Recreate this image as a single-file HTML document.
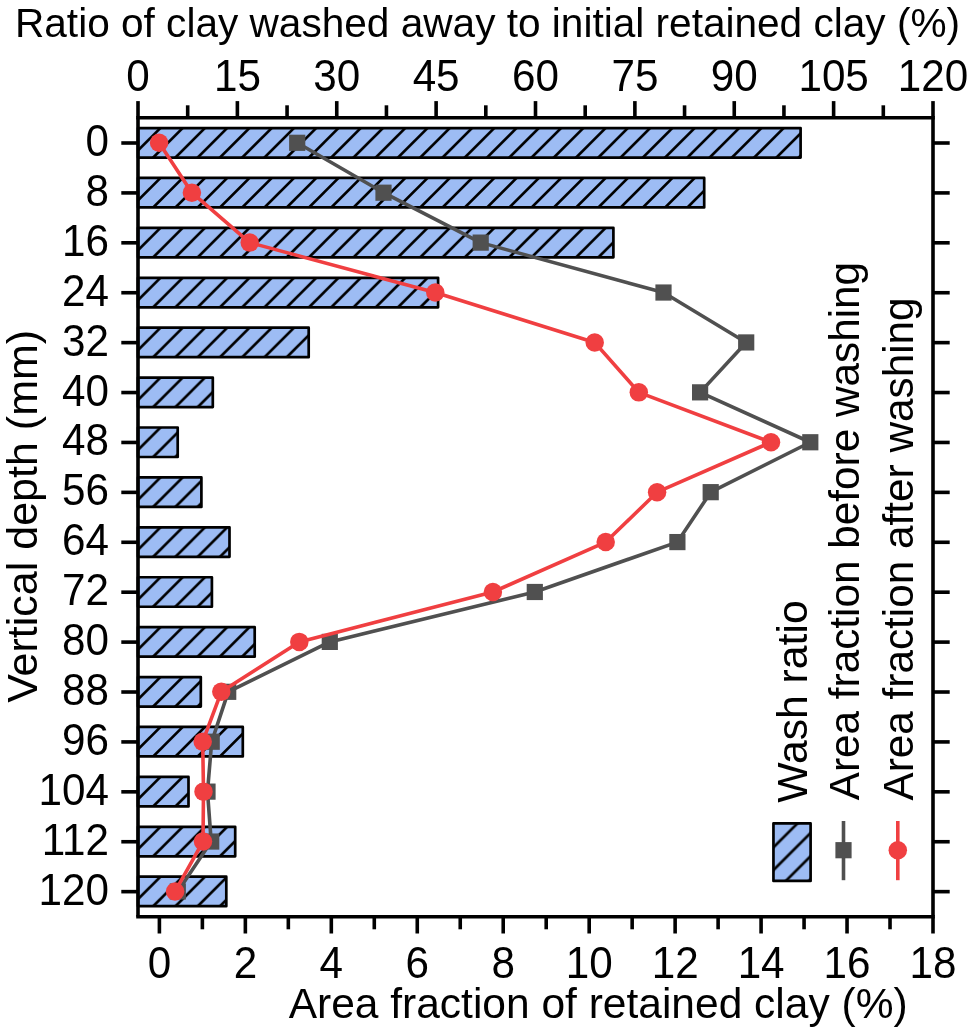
<!DOCTYPE html>
<html lang="en"><head><meta charset="utf-8">
<title>Clay wash ratio and area fraction versus vertical depth</title>
<style>
html,body{margin:0;padding:0;background:#fff;}
body{width:969px;height:1032px;overflow:hidden;}
svg{display:block;will-change:transform;}
text{font-family:"Liberation Sans", Arial, Helvetica, sans-serif;fill:#000;}
</style></head><body>
<svg role="img" aria-label="Bar and line chart of clay wash ratio and area fraction versus vertical depth" width="969" height="1032" viewBox="0 0 969 1032">
<rect x="0" y="0" width="969" height="1032" fill="#fff"/>
<defs><g id="hatch" stroke="#000" stroke-width="2.60" stroke-linecap="butt">
<line x1="-22.60" y1="45.00" x2="34.40" y2="-12.00"/>
<line x1="-0.34" y1="45.00" x2="56.66" y2="-12.00"/>
<line x1="21.92" y1="45.00" x2="78.92" y2="-12.00"/>
<line x1="44.18" y1="45.00" x2="101.18" y2="-12.00"/>
<line x1="66.44" y1="45.00" x2="123.44" y2="-12.00"/>
<line x1="88.70" y1="45.00" x2="145.70" y2="-12.00"/>
<line x1="110.96" y1="45.00" x2="167.96" y2="-12.00"/>
<line x1="133.22" y1="45.00" x2="190.22" y2="-12.00"/>
<line x1="155.48" y1="45.00" x2="212.48" y2="-12.00"/>
<line x1="177.74" y1="45.00" x2="234.74" y2="-12.00"/>
<line x1="200.00" y1="45.00" x2="257.00" y2="-12.00"/>
<line x1="222.26" y1="45.00" x2="279.26" y2="-12.00"/>
<line x1="244.52" y1="45.00" x2="301.52" y2="-12.00"/>
<line x1="266.78" y1="45.00" x2="323.78" y2="-12.00"/>
<line x1="289.04" y1="45.00" x2="346.04" y2="-12.00"/>
<line x1="311.30" y1="45.00" x2="368.30" y2="-12.00"/>
<line x1="333.56" y1="45.00" x2="390.56" y2="-12.00"/>
<line x1="355.82" y1="45.00" x2="412.82" y2="-12.00"/>
<line x1="378.08" y1="45.00" x2="435.08" y2="-12.00"/>
<line x1="400.34" y1="45.00" x2="457.34" y2="-12.00"/>
<line x1="422.60" y1="45.00" x2="479.60" y2="-12.00"/>
<line x1="444.86" y1="45.00" x2="501.86" y2="-12.00"/>
<line x1="467.12" y1="45.00" x2="524.12" y2="-12.00"/>
<line x1="489.38" y1="45.00" x2="546.38" y2="-12.00"/>
<line x1="511.64" y1="45.00" x2="568.64" y2="-12.00"/>
<line x1="533.90" y1="45.00" x2="590.90" y2="-12.00"/>
<line x1="556.16" y1="45.00" x2="613.16" y2="-12.00"/>
<line x1="578.42" y1="45.00" x2="635.42" y2="-12.00"/>
<line x1="600.68" y1="45.00" x2="657.68" y2="-12.00"/>
<line x1="622.94" y1="45.00" x2="679.94" y2="-12.00"/>
<line x1="645.20" y1="45.00" x2="702.20" y2="-12.00"/>
<line x1="667.46" y1="45.00" x2="724.46" y2="-12.00"/>
<line x1="689.72" y1="45.00" x2="746.72" y2="-12.00"/>
<line x1="711.98" y1="45.00" x2="768.98" y2="-12.00"/>
</g></defs>
<g id="bars">
<svg x="138.00" y="128.05" width="662.60" height="29.50" overflow="hidden"><rect x="0" y="0" width="662.60" height="29.50" fill="#9dbcf4"/><use href="#hatch"/></svg>
<rect x="138.00" y="128.05" width="662.60" height="29.50" fill="none" stroke="#000" stroke-width="2.70" stroke-linejoin="round"/>
<svg x="138.00" y="177.96" width="566.20" height="29.50" overflow="hidden"><rect x="0" y="0" width="566.20" height="29.50" fill="#9dbcf4"/><use href="#hatch"/></svg>
<rect x="138.00" y="177.96" width="566.20" height="29.50" fill="none" stroke="#000" stroke-width="2.70" stroke-linejoin="round"/>
<svg x="138.00" y="227.87" width="475.40" height="29.50" overflow="hidden"><rect x="0" y="0" width="475.40" height="29.50" fill="#9dbcf4"/><use href="#hatch"/></svg>
<rect x="138.00" y="227.87" width="475.40" height="29.50" fill="none" stroke="#000" stroke-width="2.70" stroke-linejoin="round"/>
<svg x="138.00" y="277.78" width="300.10" height="29.50" overflow="hidden"><rect x="0" y="0" width="300.10" height="29.50" fill="#9dbcf4"/><use href="#hatch"/></svg>
<rect x="138.00" y="277.78" width="300.10" height="29.50" fill="none" stroke="#000" stroke-width="2.70" stroke-linejoin="round"/>
<svg x="138.00" y="327.69" width="170.70" height="29.50" overflow="hidden"><rect x="0" y="0" width="170.70" height="29.50" fill="#9dbcf4"/><use href="#hatch"/></svg>
<rect x="138.00" y="327.69" width="170.70" height="29.50" fill="none" stroke="#000" stroke-width="2.70" stroke-linejoin="round"/>
<svg x="138.00" y="377.60" width="74.80" height="29.50" overflow="hidden"><rect x="0" y="0" width="74.80" height="29.50" fill="#9dbcf4"/><use href="#hatch"/></svg>
<rect x="138.00" y="377.60" width="74.80" height="29.50" fill="none" stroke="#000" stroke-width="2.70" stroke-linejoin="round"/>
<svg x="138.00" y="427.51" width="39.70" height="29.50" overflow="hidden"><rect x="0" y="0" width="39.70" height="29.50" fill="#9dbcf4"/><use href="#hatch"/></svg>
<rect x="138.00" y="427.51" width="39.70" height="29.50" fill="none" stroke="#000" stroke-width="2.70" stroke-linejoin="round"/>
<svg x="138.00" y="477.42" width="63.40" height="29.50" overflow="hidden"><rect x="0" y="0" width="63.40" height="29.50" fill="#9dbcf4"/><use href="#hatch"/></svg>
<rect x="138.00" y="477.42" width="63.40" height="29.50" fill="none" stroke="#000" stroke-width="2.70" stroke-linejoin="round"/>
<svg x="138.00" y="527.33" width="91.50" height="29.50" overflow="hidden"><rect x="0" y="0" width="91.50" height="29.50" fill="#9dbcf4"/><use href="#hatch"/></svg>
<rect x="138.00" y="527.33" width="91.50" height="29.50" fill="none" stroke="#000" stroke-width="2.70" stroke-linejoin="round"/>
<svg x="138.00" y="577.24" width="73.90" height="29.50" overflow="hidden"><rect x="0" y="0" width="73.90" height="29.50" fill="#9dbcf4"/><use href="#hatch"/></svg>
<rect x="138.00" y="577.24" width="73.90" height="29.50" fill="none" stroke="#000" stroke-width="2.70" stroke-linejoin="round"/>
<svg x="138.00" y="627.15" width="116.70" height="29.50" overflow="hidden"><rect x="0" y="0" width="116.70" height="29.50" fill="#9dbcf4"/><use href="#hatch"/></svg>
<rect x="138.00" y="627.15" width="116.70" height="29.50" fill="none" stroke="#000" stroke-width="2.70" stroke-linejoin="round"/>
<svg x="138.00" y="677.06" width="62.80" height="29.50" overflow="hidden"><rect x="0" y="0" width="62.80" height="29.50" fill="#9dbcf4"/><use href="#hatch"/></svg>
<rect x="138.00" y="677.06" width="62.80" height="29.50" fill="none" stroke="#000" stroke-width="2.70" stroke-linejoin="round"/>
<svg x="138.00" y="726.97" width="104.80" height="29.50" overflow="hidden"><rect x="0" y="0" width="104.80" height="29.50" fill="#9dbcf4"/><use href="#hatch"/></svg>
<rect x="138.00" y="726.97" width="104.80" height="29.50" fill="none" stroke="#000" stroke-width="2.70" stroke-linejoin="round"/>
<svg x="138.00" y="776.88" width="50.50" height="29.50" overflow="hidden"><rect x="0" y="0" width="50.50" height="29.50" fill="#9dbcf4"/><use href="#hatch"/></svg>
<rect x="138.00" y="776.88" width="50.50" height="29.50" fill="none" stroke="#000" stroke-width="2.70" stroke-linejoin="round"/>
<svg x="138.00" y="826.79" width="97.20" height="29.50" overflow="hidden"><rect x="0" y="0" width="97.20" height="29.50" fill="#9dbcf4"/><use href="#hatch"/></svg>
<rect x="138.00" y="826.79" width="97.20" height="29.50" fill="none" stroke="#000" stroke-width="2.70" stroke-linejoin="round"/>
<svg x="138.00" y="876.70" width="88.30" height="29.50" overflow="hidden"><rect x="0" y="0" width="88.30" height="29.50" fill="#9dbcf4"/><use href="#hatch"/></svg>
<rect x="138.00" y="876.70" width="88.30" height="29.50" fill="none" stroke="#000" stroke-width="2.70" stroke-linejoin="round"/>
</g>
<polyline points="297.20,142.80 383.50,192.71 480.70,242.62 663.50,292.53 746.20,342.44 700.10,392.35 810.30,442.26 710.70,492.17 677.40,542.08 534.80,591.99 329.80,641.90 228.20,691.81 211.70,741.72 207.50,791.63 211.20,841.54 177.80,891.45" fill="none" stroke="#505050" stroke-width="3.60" stroke-linejoin="round"/>
<g fill="#505050">
<rect x="289.10" y="134.70" width="16.20" height="16.20"/>
<rect x="375.40" y="184.61" width="16.20" height="16.20"/>
<rect x="472.60" y="234.52" width="16.20" height="16.20"/>
<rect x="655.40" y="284.43" width="16.20" height="16.20"/>
<rect x="738.10" y="334.34" width="16.20" height="16.20"/>
<rect x="692.00" y="384.25" width="16.20" height="16.20"/>
<rect x="802.20" y="434.16" width="16.20" height="16.20"/>
<rect x="702.60" y="484.07" width="16.20" height="16.20"/>
<rect x="669.30" y="533.98" width="16.20" height="16.20"/>
<rect x="526.70" y="583.89" width="16.20" height="16.20"/>
<rect x="321.70" y="633.80" width="16.20" height="16.20"/>
<rect x="220.10" y="683.71" width="16.20" height="16.20"/>
<rect x="203.60" y="733.62" width="16.20" height="16.20"/>
<rect x="199.40" y="783.53" width="16.20" height="16.20"/>
<rect x="203.10" y="833.44" width="16.20" height="16.20"/>
<rect x="169.70" y="883.35" width="16.20" height="16.20"/>
</g>
<polyline points="159.10,142.80 191.90,192.71 249.70,242.62 435.30,292.53 594.70,342.44 638.80,392.35 771.00,442.26 657.10,492.17 605.70,542.08 492.90,591.99 299.30,641.90 221.30,691.81 202.70,741.72 203.50,791.63 203.00,841.54 175.10,891.45" fill="none" stroke="#f03f41" stroke-width="3.60" stroke-linejoin="round"/>
<g fill="#f03f41">
<circle cx="159.10" cy="142.80" r="9.25"/>
<circle cx="191.90" cy="192.71" r="9.25"/>
<circle cx="249.70" cy="242.62" r="9.25"/>
<circle cx="435.30" cy="292.53" r="9.25"/>
<circle cx="594.70" cy="342.44" r="9.25"/>
<circle cx="638.80" cy="392.35" r="9.25"/>
<circle cx="771.00" cy="442.26" r="9.25"/>
<circle cx="657.10" cy="492.17" r="9.25"/>
<circle cx="605.70" cy="542.08" r="9.25"/>
<circle cx="492.90" cy="591.99" r="9.25"/>
<circle cx="299.30" cy="641.90" r="9.25"/>
<circle cx="221.30" cy="691.81" r="9.25"/>
<circle cx="202.70" cy="741.72" r="9.25"/>
<circle cx="203.50" cy="791.63" r="9.25"/>
<circle cx="203.00" cy="841.54" r="9.25"/>
<circle cx="175.10" cy="891.45" r="9.25"/>
</g>
<g stroke="#000" stroke-width="3.60" fill="none" stroke-linecap="butt">
<line x1="136.20" y1="117.80" x2="934.80" y2="117.80"/>
<line x1="136.20" y1="916.80" x2="934.80" y2="916.80"/>
<line x1="138.00" y1="117.80" x2="138.00" y2="916.80"/>
<line x1="933.00" y1="117.80" x2="933.00" y2="916.80"/>
<line x1="121.30" y1="143.00" x2="138.00" y2="143.00"/>
<line x1="933.00" y1="143.00" x2="949.70" y2="143.00"/>
<line x1="121.30" y1="192.91" x2="138.00" y2="192.91"/>
<line x1="933.00" y1="192.91" x2="949.70" y2="192.91"/>
<line x1="121.30" y1="242.82" x2="138.00" y2="242.82"/>
<line x1="933.00" y1="242.82" x2="949.70" y2="242.82"/>
<line x1="121.30" y1="292.73" x2="138.00" y2="292.73"/>
<line x1="933.00" y1="292.73" x2="949.70" y2="292.73"/>
<line x1="121.30" y1="342.64" x2="138.00" y2="342.64"/>
<line x1="933.00" y1="342.64" x2="949.70" y2="342.64"/>
<line x1="121.30" y1="392.55" x2="138.00" y2="392.55"/>
<line x1="933.00" y1="392.55" x2="949.70" y2="392.55"/>
<line x1="121.30" y1="442.46" x2="138.00" y2="442.46"/>
<line x1="933.00" y1="442.46" x2="949.70" y2="442.46"/>
<line x1="121.30" y1="492.37" x2="138.00" y2="492.37"/>
<line x1="933.00" y1="492.37" x2="949.70" y2="492.37"/>
<line x1="121.30" y1="542.28" x2="138.00" y2="542.28"/>
<line x1="933.00" y1="542.28" x2="949.70" y2="542.28"/>
<line x1="121.30" y1="592.19" x2="138.00" y2="592.19"/>
<line x1="933.00" y1="592.19" x2="949.70" y2="592.19"/>
<line x1="121.30" y1="642.10" x2="138.00" y2="642.10"/>
<line x1="933.00" y1="642.10" x2="949.70" y2="642.10"/>
<line x1="121.30" y1="692.01" x2="138.00" y2="692.01"/>
<line x1="933.00" y1="692.01" x2="949.70" y2="692.01"/>
<line x1="121.30" y1="741.92" x2="138.00" y2="741.92"/>
<line x1="933.00" y1="741.92" x2="949.70" y2="741.92"/>
<line x1="121.30" y1="791.83" x2="138.00" y2="791.83"/>
<line x1="933.00" y1="791.83" x2="949.70" y2="791.83"/>
<line x1="121.30" y1="841.74" x2="138.00" y2="841.74"/>
<line x1="933.00" y1="841.74" x2="949.70" y2="841.74"/>
<line x1="121.30" y1="891.65" x2="138.00" y2="891.65"/>
<line x1="933.00" y1="891.65" x2="949.70" y2="891.65"/>
<line x1="138.00" y1="117.80" x2="138.00" y2="101.10"/>
<line x1="187.69" y1="117.80" x2="187.69" y2="105.30"/>
<line x1="237.38" y1="117.80" x2="237.38" y2="101.10"/>
<line x1="287.06" y1="117.80" x2="287.06" y2="105.30"/>
<line x1="336.75" y1="117.80" x2="336.75" y2="101.10"/>
<line x1="386.44" y1="117.80" x2="386.44" y2="105.30"/>
<line x1="436.12" y1="117.80" x2="436.12" y2="101.10"/>
<line x1="485.81" y1="117.80" x2="485.81" y2="105.30"/>
<line x1="535.50" y1="117.80" x2="535.50" y2="101.10"/>
<line x1="585.19" y1="117.80" x2="585.19" y2="105.30"/>
<line x1="634.88" y1="117.80" x2="634.88" y2="101.10"/>
<line x1="684.56" y1="117.80" x2="684.56" y2="105.30"/>
<line x1="734.25" y1="117.80" x2="734.25" y2="101.10"/>
<line x1="783.94" y1="117.80" x2="783.94" y2="105.30"/>
<line x1="833.62" y1="117.80" x2="833.62" y2="101.10"/>
<line x1="883.31" y1="117.80" x2="883.31" y2="105.30"/>
<line x1="933.00" y1="117.80" x2="933.00" y2="101.10"/>
<line x1="159.40" y1="916.80" x2="159.40" y2="933.50"/>
<line x1="202.38" y1="916.80" x2="202.38" y2="929.30"/>
<line x1="245.36" y1="916.80" x2="245.36" y2="933.50"/>
<line x1="288.33" y1="916.80" x2="288.33" y2="929.30"/>
<line x1="331.31" y1="916.80" x2="331.31" y2="933.50"/>
<line x1="374.29" y1="916.80" x2="374.29" y2="929.30"/>
<line x1="417.27" y1="916.80" x2="417.27" y2="933.50"/>
<line x1="460.24" y1="916.80" x2="460.24" y2="929.30"/>
<line x1="503.22" y1="916.80" x2="503.22" y2="933.50"/>
<line x1="546.20" y1="916.80" x2="546.20" y2="929.30"/>
<line x1="589.18" y1="916.80" x2="589.18" y2="933.50"/>
<line x1="632.16" y1="916.80" x2="632.16" y2="929.30"/>
<line x1="675.13" y1="916.80" x2="675.13" y2="933.50"/>
<line x1="718.11" y1="916.80" x2="718.11" y2="929.30"/>
<line x1="761.09" y1="916.80" x2="761.09" y2="933.50"/>
<line x1="804.07" y1="916.80" x2="804.07" y2="929.30"/>
<line x1="847.04" y1="916.80" x2="847.04" y2="933.50"/>
<line x1="890.02" y1="916.80" x2="890.02" y2="929.30"/>
<line x1="933.00" y1="916.80" x2="933.00" y2="933.50"/>
</g>
<g font-size="42.20" text-anchor="middle">
<text transform="translate(138.00,91.30) scale(1,1.040)">0</text>
<text transform="translate(237.38,91.30) scale(1,1.040)">15</text>
<text transform="translate(336.75,91.30) scale(1,1.040)">30</text>
<text transform="translate(436.12,91.30) scale(1,1.040)">45</text>
<text transform="translate(535.50,91.30) scale(1,1.040)">60</text>
<text transform="translate(634.88,91.30) scale(1,1.040)">75</text>
<text transform="translate(734.25,91.30) scale(1,1.040)">90</text>
<text transform="translate(833.62,91.30) scale(1,1.040)">105</text>
<text transform="translate(933.00,91.30) scale(1,1.040)">120</text>
<text transform="translate(159.40,978.00) scale(1,1.040)">0</text>
<text transform="translate(245.36,978.00) scale(1,1.040)">2</text>
<text transform="translate(331.31,978.00) scale(1,1.040)">4</text>
<text transform="translate(417.27,978.00) scale(1,1.040)">6</text>
<text transform="translate(503.22,978.00) scale(1,1.040)">8</text>
<text transform="translate(589.18,978.00) scale(1,1.040)">10</text>
<text transform="translate(675.13,978.00) scale(1,1.040)">12</text>
<text transform="translate(761.09,978.00) scale(1,1.040)">14</text>
<text transform="translate(847.04,978.00) scale(1,1.040)">16</text>
<text transform="translate(933.00,978.00) scale(1,1.040)">18</text>
</g>
<g font-size="42.20" text-anchor="end">
<text transform="translate(109.00,156.00) scale(1,1.040)">0</text>
<text transform="translate(109.00,205.91) scale(1,1.040)">8</text>
<text transform="translate(109.00,255.82) scale(1,1.040)">16</text>
<text transform="translate(109.00,305.73) scale(1,1.040)">24</text>
<text transform="translate(109.00,355.64) scale(1,1.040)">32</text>
<text transform="translate(109.00,405.55) scale(1,1.040)">40</text>
<text transform="translate(109.00,455.46) scale(1,1.040)">48</text>
<text transform="translate(109.00,505.37) scale(1,1.040)">56</text>
<text transform="translate(109.00,555.28) scale(1,1.040)">64</text>
<text transform="translate(109.00,605.19) scale(1,1.040)">72</text>
<text transform="translate(109.00,655.10) scale(1,1.040)">80</text>
<text transform="translate(109.00,705.01) scale(1,1.040)">88</text>
<text transform="translate(109.00,754.92) scale(1,1.040)">96</text>
<text transform="translate(109.00,804.83) scale(1,1.040)">104</text>
<text transform="translate(109.00,854.74) scale(1,1.040)">112</text>
<text transform="translate(109.00,904.65) scale(1,1.040)">120</text>
</g>
<text x="15.00" y="37.00" font-size="40.60" text-anchor="start">Ratio of clay washed away to initial retained clay (%)</text>
<text x="288.70" y="1017.60" font-size="42.50" text-anchor="start">Area fraction of retained clay (%)</text>
<text transform="translate(37.00,702.70) rotate(-90)" font-size="43.00" text-anchor="start">Vertical depth (mm)</text>
<g font-size="42.30">
<text transform="translate(807.00,802.80) rotate(-90)" font-size="42.7">Wash ratio</text>
<text transform="translate(858.90,800.30) rotate(-90)">Area fraction before washing</text>
<text transform="translate(912.60,800.50) rotate(-90)">Area fraction after washing</text>
</g>
<svg x="773.45" y="823.40" width="37.15" height="57.50" overflow="hidden"><rect x="0" y="0" width="37.15" height="57.50" fill="#9dbcf4"/>
<g stroke="#000" stroke-width="2.60">
<line x1="-46.05" y1="70.00" x2="35.95" y2="-12.00"/>
<line x1="-23.35" y1="70.00" x2="58.65" y2="-12.00"/>
<line x1="-0.15" y1="70.00" x2="81.85" y2="-12.00"/>
<line x1="22.90" y1="70.00" x2="104.90" y2="-12.00"/>
</g></svg>
<rect x="773.45" y="823.40" width="37.15" height="57.50" fill="none" stroke="#000" stroke-width="2.70" stroke-linejoin="round"/>
<line x1="843.50" y1="821.00" x2="843.50" y2="880.20" stroke="#505050" stroke-width="3.60"/>
<rect x="835.40" y="842.10" width="16.20" height="16.20" fill="#505050"/>
<line x1="897.80" y1="821.00" x2="897.80" y2="880.20" stroke="#f03f41" stroke-width="3.60"/>
<circle cx="897.80" cy="850.20" r="9.25" fill="#f03f41"/>
</svg>
</body></html>
